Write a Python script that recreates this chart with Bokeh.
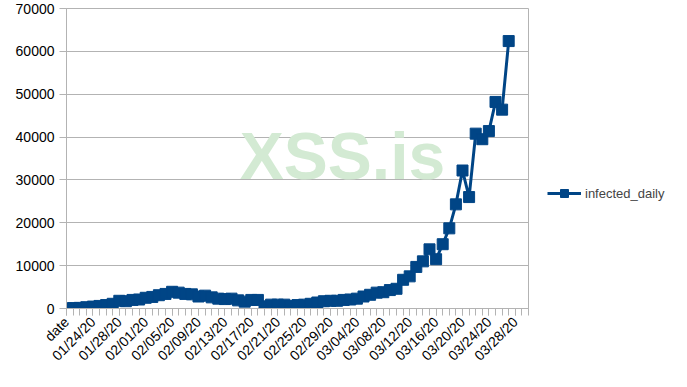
import math
import pandas as pd
from bokeh.plotting import figure
from bokeh.models import (Range1d, FixedTicker, NumeralTickFormatter, Legend, LegendItem,
                          Label, ColumnDataSource)
from bokeh.embed import file_html
from bokeh.resources import INLINE

# categories on the x axis (first row is the header "date")
categories = ["date"] + [d.strftime("%m/%d/%y") for d in pd.date_range("2020-01-21", "2020-03-30")]

infected_daily = [
    0, 100, 150, 300, 450, 600, 800, 1100, 1800, 1700,
    2000, 2100, 2500, 2700, 3100, 3400, 3900, 3700, 3400, 3300,
    2800, 3000, 2600, 2300, 2200, 2300, 1900, 1600, 2000, 2000,
    500, 900, 900, 900, 600, 800, 900, 1100, 1400, 1700,
    1800, 1800, 2000, 2100, 2300, 2800, 3200, 3700, 3800, 4300,
    4600, 6700, 7500, 9700, 11000, 13800, 11500, 15000, 18700, 24300,
    32200, 26000, 40800, 39500, 41400, 48200, 46400, 62400,
]

y_ticks = [0, 10000, 20000, 30000, 40000, 50000, 60000, 70000]
label_step = 4

FONT = "Liberation Sans"
GRAY = "#b3b3b3"
NAVY = "#004586"

src = ColumnDataSource(dict(x=list(range(len(infected_daily))), y=infected_daily))

p = figure(frame_width=462, frame_height=300, output_backend="svg", toolbar_location=None,
           x_range=Range1d(0, len(categories) - 1), y_range=Range1d(0, 70000),
           min_border_left=66, min_border_right=0, min_border_top=8, min_border_bottom=79)

p.background_fill_color = "white"
p.border_fill_color = "white"
p.outline_line_color = GRAY
p.outline_line_width = 1

# watermark
wm = Label(x=276, y=153, x_units="screen", y_units="screen", text="XSS.is",
           text_font=FONT, text_font_style="bold", text_font_size="66px",
           text_color="#d3ead3", text_align="center", text_baseline="middle",
           level="underlay")
p.add_layout(wm)

r_line = p.line("x", "y", source=src, line_color=NAVY, line_width=3)
r_pts = p.scatter("x", "y", source=src, marker="square", size=11,
                  fill_color=NAVY, line_color=NAVY, line_width=1)

# axes
xa = p.xaxis[0]
xa.ticker = FixedTicker(ticks=list(range(0, len(categories), label_step)),
                        minor_ticks=list(range(len(categories))))
xa.major_label_overrides = {i: categories[i] for i in range(0, len(categories), label_step)}
xa.major_label_orientation = math.pi / 4
xa.axis_line_color = GRAY
xa.major_tick_line_color = GRAY
xa.minor_tick_line_color = GRAY
xa.major_tick_out = 7
xa.major_tick_in = 0
xa.minor_tick_out = 7
xa.minor_tick_in = 0
xa.major_label_text_font = FONT
xa.major_label_text_font_size = "14px"
xa.major_label_text_color = "black"
xa.major_label_standoff = 4

ya = p.yaxis[0]
ya.ticker = FixedTicker(ticks=y_ticks)
ya.formatter = NumeralTickFormatter(format="0")
ya.axis_line_color = GRAY
ya.major_tick_line_color = GRAY
ya.major_tick_out = 7
ya.major_tick_in = 0
ya.minor_tick_line_color = None
ya.major_label_text_font = FONT
ya.major_label_text_font_size = "14px"
ya.major_label_text_color = "black"
ya.major_label_standoff = 5

p.xgrid.grid_line_color = None
p.ygrid.grid_line_color = GRAY
p.ygrid.grid_line_width = 1

legend = Legend(items=[LegendItem(label="infected_daily", renderers=[r_line, r_pts])],
                location=(19, 105), padding=0, margin=0, border_line_color=None,
                background_fill_alpha=0, glyph_width=34, glyph_height=20,
                label_text_font=FONT, label_text_font_size="13px", label_standoff=4,
                label_width=100)
p.add_layout(legend, "right")

open("out.html", "w").write(file_html(p, INLINE))
